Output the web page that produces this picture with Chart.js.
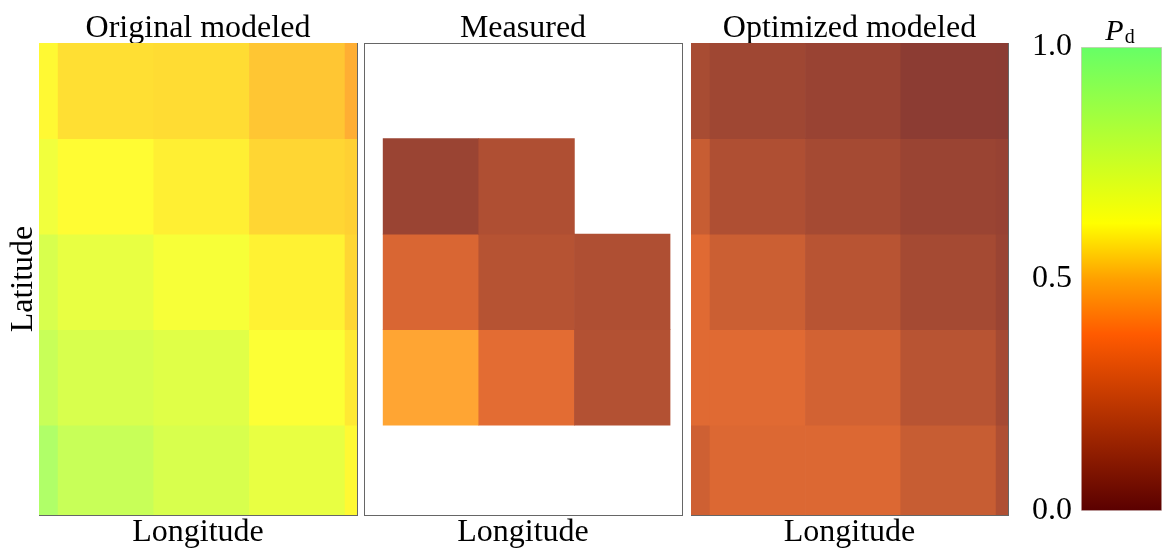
<!DOCTYPE html>
<html>
<head>
<meta charset="utf-8">
<script src="https://cdn.jsdelivr.net/npm/chart.js@4.4.1/dist/chart.umd.min.js"></script>
<style>
  html, body { margin: 0; padding: 0; background: #fff; }
  body { width: 1163px; height: 551px; position: relative; overflow: hidden; }
  .box { position: absolute; top: 0; height: 551px; }
</style>
</head>
<body>
<div class="box" style="left:0;width:359px"><canvas id="c1"></canvas></div>
<div class="box" style="left:362px;width:322px"><canvas id="c2"></canvas></div>
<div class="box" style="left:689px;width:321px"><canvas id="c3"></canvas></div>
<div class="box" style="left:1020px;width:143px"><canvas id="cb"></canvas></div>
<script>
// grid cell centres (one unit per cell), rows listed top to bottom
const lonCenters = [-0.5, 0.5, 1.5, 2.5, 3.5];
const latCenters = [4.5, 3.5, 2.5, 1.5, 0.5];

// P_d per cell
const originalModeled = [
    [0.61, 0.57, 0.565, 0.53, 0.49],
    [0.665, 0.615, 0.595, 0.555, 0.545],
    [0.74, 0.69, 0.645, 0.60, 0.555],
    [0.79, 0.74, 0.715, 0.63, 0.585],
    [0.865, 0.79, 0.74, 0.69, 0.61]
];
const measured = [
    [null, null, null, null, null],
    [null, 0.09, 0.15, null, null],
    [null, 0.27, 0.17, 0.15, null],
    [null, 0.47, 0.30, 0.16, null],
    [null, null, null, null, null]
];
const optimizedModeled = [
    [0.13, 0.105, 0.085, 0.05, 0.045],
    [0.22, 0.15, 0.12, 0.09, 0.08],
    [0.29, 0.23, 0.175, 0.12, 0.09],
    [0.29, 0.29, 0.25, 0.175, 0.12],
    [0.24, 0.28, 0.28, 0.22, 0.15]
];

const panelTitles = ['Original modeled', 'Measured', 'Optimized modeled'];
const xTitle = 'Longitude';
const yTitle = 'Latitude';
const colorbarTicks = [0, 0.5, 1];

// colour map of the bar on the right
const cmapStops = [0, 0.38, 0.5, 0.62, 1];
const cmapColors = [[90, 0, 0], [255, 90, 0], [255, 160, 0], [255, 255, 0], [102, 255, 102]];

Chart.defaults.font.family = '"Liberation Serif", "Times New Roman", serif';
Chart.defaults.color = '#000';

function cmap(v) {
    let i = 0;
    while (i < cmapStops.length - 2 && v > cmapStops[i + 1]) i++;
    const t = Math.max(0, Math.min(1, (v - cmapStops[i]) / (cmapStops[i + 1] - cmapStops[i])));
    return cmapColors[i].map((c, k) => c + (cmapColors[i + 1][k] - c) * t);
}

// cells are drawn at 80% over white
function cellColor(v) {
    const c = cmap(v).map(k => Math.round(k * 0.8 + 255 * 0.2));
    return 'rgb(' + c.join(',') + ')';
}

function cellDatasets(grid) {
    return latCenters.map((lat, r) => {
        const pts = [];
        const cols = [];
        grid[r].forEach((v, c) => {
            if (v === null) return;
            pts.push({ x: lonCenters[c], y: [lat - 0.5, lat + 0.5] });
            cols.push(cellColor(v));
        });
        return {
            data: pts,
            backgroundColor: cols,
            borderWidth: 0,
            grouped: false,
            barPercentage: 1,
            categoryPercentage: 1
        };
    });
}

const frame = { display: true, color: '#666', width: 1 };

function panel(id, grid, title, showY, padLeft) {
    new Chart(document.getElementById(id), {
        type: 'bar',
        data: { datasets: cellDatasets(grid) },
        options: {
            responsive: true,
            maintainAspectRatio: false,
            animation: false,
            layout: { padding: { left: padLeft, right: 2, top: 0, bottom: 0 } },
            plugins: { legend: { display: false }, tooltip: { enabled: false } },
            scales: {
                x: {
                    type: 'linear', min: -0.2, max: 3.125, offset: false,
                    ticks: { display: false, stepSize: 1, includeBounds: false },
                    grid: { display: false, drawTicks: false },
                    border: frame,
                    title: { display: true, text: xTitle, font: { size: 32, lineHeight: 1 }, padding: { top: 0, bottom: 2 } },
                    afterFit: s => { s.height = 36; }
                },
                x2: {
                    type: 'linear', position: 'top', min: -0.2, max: 3.125,
                    ticks: { display: false },
                    grid: { display: false, drawTicks: false },
                    border: frame,
                    title: { display: true, text: title, font: { size: 32, lineHeight: 1 }, padding: { top: 13, bottom: 0 } },
                    afterFit: s => { s.height = 43; }
                },
                y: {
                    type: 'linear', min: 0.06, max: 5,
                    ticks: { display: false },
                    grid: { display: false, drawTicks: false },
                    border: frame,
                    title: { display: showY, text: yTitle, font: { size: 32, lineHeight: 1 }, padding: { top: 8, bottom: 0 } },
                    afterFit: s => { s.width = showY ? 39 : 0; }
                },
                y2: {
                    type: 'linear', position: 'right', min: 0.06, max: 5,
                    ticks: { display: false },
                    grid: { display: false, drawTicks: false },
                    border: frame,
                    afterFit: s => { s.width = 0; }
                }
            }
        }
    });
}

panel('c1', originalModeled, panelTitles[0], true, 0);
panel('c2', measured, panelTitles[1], false, 2);
panel('c3', optimizedModeled, panelTitles[2], false, 2);

// colour bar
const pdTitle = {
    id: 'pdTitle',
    afterDraw(chart) {
        const { ctx, chartArea } = chart;
        ctx.save();
        ctx.fillStyle = '#000';
        ctx.textBaseline = 'alphabetic';
        ctx.font = 'italic 30px "Liberation Serif"';
        const wP = ctx.measureText('P').width;
        ctx.font = '20px "Liberation Serif"';
        const wd = ctx.measureText('d').width;
        const x0 = (chartArea.left + chartArea.right) / 2 - (wP + wd) / 2 - 2;
        const base = chartArea.top - 7;
        ctx.font = 'italic 30px "Liberation Serif"';
        ctx.fillText('P', x0, base);
        ctx.font = '20px "Liberation Serif"';
        ctx.fillText('d', x0 + wP + 1, base + 3);
        ctx.restore();
    }
};

function barGradient(context) {
    const chart = context.chart;
    if (!chart.chartArea) return null;
    const y = chart.scales.y;
    const g = chart.ctx.createLinearGradient(0, y.getPixelForValue(0), 0, y.getPixelForValue(1));
    cmapStops.forEach((s, i) => g.addColorStop(s, 'rgb(' + cmapColors[i].join(',') + ')'));
    return g;
}

new Chart(document.getElementById('cb'), {
    type: 'bar',
    data: {
        labels: [''],
        datasets: [{
            data: [[colorbarTicks[0], colorbarTicks[colorbarTicks.length - 1]]],
            backgroundColor: barGradient,
            borderColor: 'rgba(200,175,175,0.7)',
            borderWidth: 1,
            borderSkipped: false,
            barPercentage: 1,
            categoryPercentage: 1
        }]
    },
    options: {
        responsive: true,
        maintainAspectRatio: false,
        animation: false,
        layout: { padding: { top: 47, bottom: 40, right: 1 } },
        plugins: { legend: { display: false }, tooltip: { enabled: false } },
        scales: {
            x: { display: false },
            y: {
                min: 0, max: 1,
                afterBuildTicks: s => { s.ticks = colorbarTicks.map(v => ({ value: v })); },
                afterFit: s => { s.width = 61; },
                grid: { display: false, drawTicks: false },
                border: { display: false },
                ticks: { padding: 9, font: { size: 32 }, callback: v => v.toFixed(1) }
            }
        }
    },
    plugins: [pdTitle]
});
</script>
</body>
</html>
